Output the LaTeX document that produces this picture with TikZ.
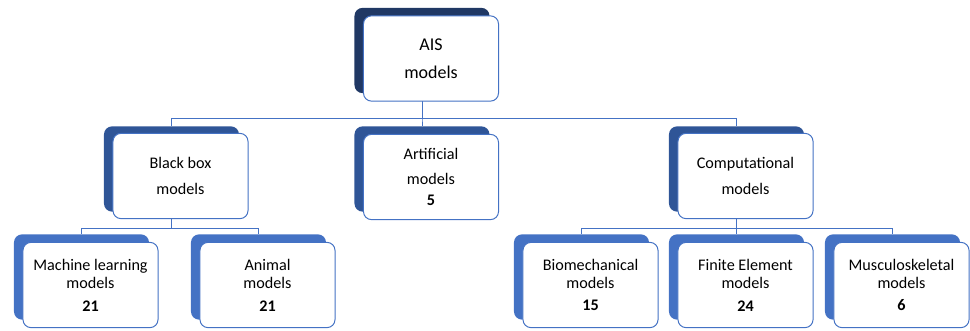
\documentclass[tikz,border=0pt]{standalone}
\usepackage{fontspec}
\setmainfont{Carlito}
\usetikzlibrary{backgrounds}

\definecolor{navyback}{HTML}{203864}
\definecolor{midback}{HTML}{2F5597}
\definecolor{lightback}{HTML}{4472C4}
\definecolor{cardline}{HTML}{4472C4}

\tikzset{
  card/.style={shape=rectangle,draw=cardline,fill=white,rounded corners=0.2cm,align=center,line width=0.7pt,minimum width=3.375cm,minimum height=2.13cm,inner sep=0pt},
  backbox/.style={shape=rectangle,rounded corners=0.2cm,minimum width=3.375cm,minimum height=2.13cm,inner sep=0pt},
  lvlone/.style={backbox,fill=navyback},
  lvltwo/.style={backbox,fill=midback},
  lvlthree/.style={backbox,fill=lightback},
  conn/.style={-,draw=cardline,line width=0.7pt}
}

\begin{document}
\begin{tikzpicture}[x=0.025cm,y=-0.025cm]
\useasboundingbox (0,0) rectangle (970,330);

% back boxes
\node[lvlone] (ais-s) at (422,50.5) {};
\node[lvltwo] (bb-s) at (171.5,169) {};
\node[lvltwo] (art-s) at (422,169) {};
\node[lvltwo] (comp-s) at (736.5,169) {};
\node[lvlthree] (ml-s) at (81.5,277) {};
\node[lvlthree] (ani-s) at (258.5,277) {};
\node[lvlthree] (bio-s) at (581.5,277) {};
\node[lvlthree] (fe-s) at (736.5,277) {};
\node[lvlthree] (msk-s) at (892.5,277) {};

% front boxes
\node[card,font=\fontsize{12.8}{20}\selectfont] (ais) at (431,58.5) {AIS\\models};
\node[card,font=\fontsize{11.5}{19}\selectfont] (bb) at (180.5,176) {Black box\\models};
\node[card,font=\fontsize{11.5}{14}\selectfont] (art) at (431,177) {Artificial\\[4pt]models\\[1pt]\textbf{5}};
\node[card,font=\fontsize{11.5}{19}\selectfont] (comp) at (745.5,176) {Computational\\models};
\node[card,font=\fontsize{11.5}{13}\selectfont] (ml) at (90.5,285) {Machine learning\\models\\[3pt]\textbf{21}};
\node[card,font=\fontsize{11.5}{13}\selectfont] (ani) at (267.5,285) {Animal\\models\\[3pt]\textbf{21}};
\node[card,font=\fontsize{11.5}{13}\selectfont] (bio) at (590.5,285) {Biomechanical\\models\\[3pt]\textbf{15}};
\node[card,font=\fontsize{11.5}{13}\selectfont] (fe) at (745.5,285) {Finite Element\\models\\[3pt]\textbf{24}};
\node[card,font=\fontsize{11.5}{13}\selectfont] (msk) at (901.5,285) {Musculoskeletal\\models\\[3pt]\textbf{6}};

% connectors
\begin{scope}[on background layer]
\coordinate (busone) at (0,118);
\coordinate (bustwo) at (0,228);
\foreach \c in {bb,art,comp}
  \draw[conn] (ais-s.south) |- (busone -| \c-s) -- (\c-s.north);
\foreach \c in {ml,ani}
  \draw[conn] (bb-s.south) |- (bustwo -| \c-s) -- (\c-s.north);
\foreach \c in {bio,fe,msk}
  \draw[conn] (comp-s.south) |- (bustwo -| \c-s) -- (\c-s.north);
\end{scope}
\end{tikzpicture}
\end{document}
